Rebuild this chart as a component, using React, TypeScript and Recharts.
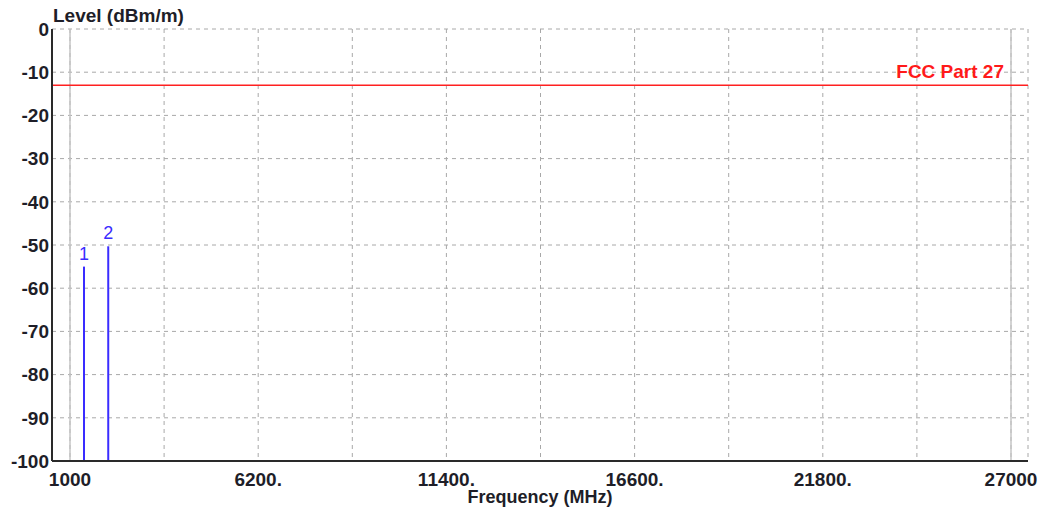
import { ComposedChart, Bar, XAxis, YAxis, CartesianGrid, ReferenceLine, LabelList } from 'recharts';

// frequency grid (MHz) and the labelled ones
const gridFreqs = [1000, 3600, 6200, 8800, 11400, 14000, 16600, 19200, 21800, 24400, 27000];
const labelFreqs = [1000, 6200, 11400, 16600, 21800, 27000];
const labelTexts = ['1000', '6200.', '11400.', '16600.', '21800.', '27000'];
const levelTicks = [0, -10, -20, -30, -40, -50, -60, -70, -80, -90, -100];

// spurious emission markers
const markerNames = ['1', '2'];
const markerFreqs = [1390, 2060];
const markerLevels = [-55.0, -50.3];

const limitLevel = -13;
const limitName = 'FCC Part 27';

const data = markerNames.map((name, i) => ({
  name,
  freq: markerFreqs[i],
  level: [-100, markerLevels[i]],
}));

const FONT = '"Liberation Sans", Arial, sans-serif';
const FRAME = '#2a2a2a';

const fmtFreq = (v: number) => {
  const i = labelFreqs.indexOf(v);
  return i >= 0 ? labelTexts[i] : '';
};

export default function App() {
  return (
    <div style={{ position: 'absolute', left: 0, top: 0, background: '#fff' }}>
      <ComposedChart
        width={1049}
        height={517}
        data={data}
        margin={{ top: 29, right: 21, left: 0, bottom: 0 }}
        style={{ fontFamily: FONT }}
      >
        <CartesianGrid stroke="#a8a8a8" strokeDasharray="4 4" />
        <XAxis
          dataKey="freq"
          type="number"
          domain={[1000, 27000]}
          ticks={gridFreqs}
          tickFormatter={fmtFreq}
          interval={0}
          padding={{ left: 18, right: 17 }}
          height={56}
          tickSize={0}
          tickMargin={12}
          axisLine={{ stroke: FRAME, strokeWidth: 2 }}
          tick={{ fontSize: 19, fontWeight: 'bold', fill: '#1e1e28' }}
          label={{ value: 'Frequency (MHz)', position: 'insideBottom', offset: 14, fontSize: 18, fontWeight: 'bold', fill: '#1e1e28' }}
        />
        <XAxis
          xAxisId="top"
          orientation="top"
          type="number"
          domain={[1000, 27000]}
          height={0}
          tick={false}
          tickLine={false}
          axisLine={{ stroke: FRAME, strokeWidth: 2 }}
        />
        <YAxis
          type="number"
          domain={[-100, 0]}
          ticks={levelTicks}
          interval={0}
          width={52}
          tickSize={0}
          tickMargin={3}
          axisLine={{ stroke: FRAME, strokeWidth: 2 }}
          tick={{ fontSize: 19, fontWeight: 'bold', fill: '#1e1e28' }}
          label={{
            content: ({ viewBox }: any) => (
              <text x={viewBox.x + viewBox.width + 1} y={viewBox.y - 7} fontSize={19} fontWeight="bold" fill="#1e1e28">
                Level (dBm/m)
              </text>
            ),
          }}
        />
        <YAxis
          yAxisId="right"
          orientation="right"
          type="number"
          domain={[-100, 0]}
          width={0}
          tick={false}
          tickLine={false}
          axisLine={{ stroke: FRAME, strokeWidth: 2 }}
        />
        <ReferenceLine x={1000} stroke="#c4c4c4" strokeWidth={1.5} />
        <ReferenceLine x={27000} stroke="#c4c4c4" strokeWidth={1.5} />
        <ReferenceLine
          y={limitLevel}
          stroke="#ff2020"
          strokeWidth={1.5}
          label={{
            content: ({ viewBox }: any) => (
              <text
                x={viewBox.x + viewBox.width - 24}
                y={viewBox.y - 7}
                textAnchor="end"
                fontSize={19}
                fontWeight="bold"
                fill="#ff1a1a"
              >
                {limitName}
              </text>
            ),
          }}
        />
        <Bar dataKey="level" barSize={2} fill="#3a2cff" isAnimationActive={false}>
          <LabelList dataKey="name" position="top" offset={7} fontSize={18} fill="#3a2cff" />
        </Bar>
      </ComposedChart>
    </div>
  );
}
